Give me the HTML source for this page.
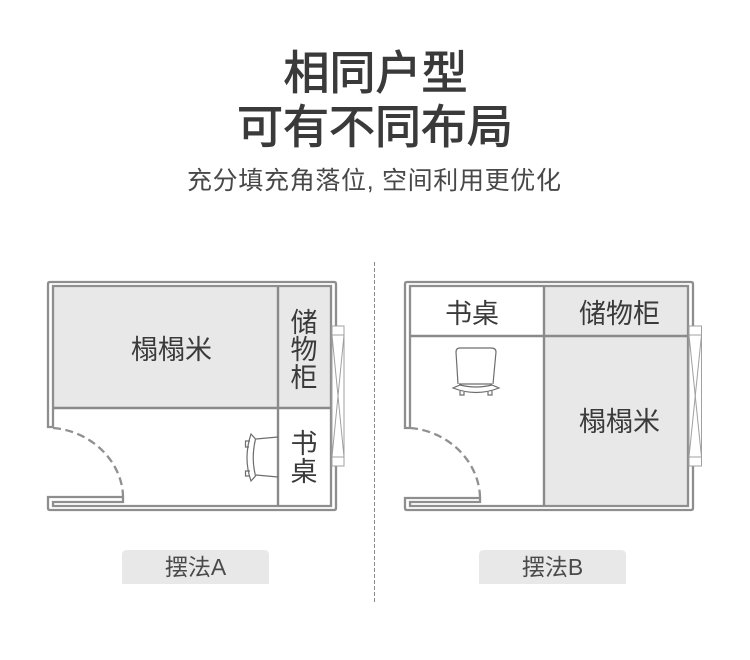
<!DOCTYPE html>
<html lang="zh">
<head>
<meta charset="utf-8">
<style>
html,body{margin:0;padding:0;background:#fff;}
body{width:750px;height:660px;overflow:hidden;}
svg{display:block;}
text{font-family:"Liberation Sans","Noto Sans CJK SC",sans-serif;}
.h{font-size:46px;font-weight:400;fill:#3a3a3a;stroke:#3a3a3a;stroke-width:1;text-anchor:middle;}
.s{font-size:25px;fill:#484848;}
.l{font-size:27px;fill:#3a3a3a;text-anchor:middle;}
.b{font-size:23px;fill:#4a4a4a;text-anchor:middle;}
.w{fill:none;stroke:#8e8e8e;stroke-width:2.3;}
.d{fill:none;stroke:#8a8a8a;stroke-width:2.4;}
.t{fill:none;stroke:#a0a0a0;stroke-width:1;}
.c{fill:none;stroke:#6e6e6e;stroke-width:1.2;}
.a{fill:none;stroke:#909090;stroke-width:2.3;stroke-dasharray:8 4.5;}
</style>
</head>
<body>
<svg width="750" height="660" viewBox="0 0 750 660" xmlns="http://www.w3.org/2000/svg">
<rect width="750" height="660" fill="#fff"/>

<text class="h" x="375.5" y="89">相同户型</text>
<text class="h" x="375" y="143">可有不同布局</text>
<text class="s" x="187" y="189" textLength="374" lengthAdjust="spacing">充分填充角落位, 空间利用更优化</text>

<line x1="374.5" y1="262" x2="374.5" y2="603" stroke="#8c8c8c" stroke-width="1" stroke-dasharray="4 2"/>

<!-- Plan A -->
<rect x="53" y="286" width="225" height="122" fill="#e8e8e8"/>
<rect x="278" y="286" width="53" height="122" fill="#e8e8e8"/>
<path class="w" d="M53 427H48V284Q48 282 50 282H334Q336 282 336 284V508Q336 510 334 510H50Q48 510 48 508V497H123V502H53V506H331V286H53V427"/>
<line class="d" x1="278" y1="286" x2="278" y2="506"/>
<line class="d" x1="53" y1="408" x2="331" y2="408"/>
<path class="a" d="M53 428C92 431 122 462 123 496"/>
<rect x="332" y="326" width="12" height="140" fill="#fff" stroke="#a0a0a0" stroke-width="1"/>
<line class="t" x1="332" y1="335" x2="344" y2="335"/>
<line class="t" x1="332" y1="457" x2="344" y2="457"/>
<line class="t" x1="332" y1="335" x2="344" y2="457"/>
<line class="t" x1="344" y1="335" x2="332" y2="457"/>
<path class="c" d="M278 437L256 439M278 477L256 475M251 434Q243 458 251 481L255.500 476Q251 458 255.500 439ZM250 441H245.500V447H249M250 471H245.500V476H250"/>
<text class="l" x="171.500" y="359">榻榻米</text>
<text class="l" x="304" y="332">储</text>
<text class="l" x="304" y="359">物</text>
<text class="l" x="304" y="387">柜</text>
<text class="l" x="304" y="453">书</text>
<text class="l" x="304" y="481">桌</text>

<!-- Plan B -->
<rect x="544" y="286" width="144" height="220" fill="#e8e8e8"/>
<path class="w" d="M410 428H405V284Q405 282 407 282H691Q693 282 693 284V508Q693 510 691 510H407Q405 510 405 508V498H480V502H410V506H688V286H410V428"/>
<line class="d" x1="544" y1="286" x2="544" y2="506"/>
<line class="d" x1="410" y1="336" x2="688" y2="336"/>
<path class="a" d="M410 428C449 431 479 462 480 497"/>
<rect x="689" y="326" width="12.500" height="140" fill="#fff" stroke="#a0a0a0" stroke-width="1"/>
<line class="t" x1="689" y1="335" x2="701.500" y2="335"/>
<line class="t" x1="689" y1="457" x2="701.500" y2="457"/>
<line class="t" x1="689" y1="335" x2="701.500" y2="457"/>
<line class="t" x1="701.500" y1="335" x2="689" y2="457"/>
<path class="c" d="M458 384L456 352Q456 348 460 348H491Q496 348 496 352L493 384M453 388Q476 397 499 388L492 385Q476 389 460 385ZM459 384H492M460 391V395H464V392M488 392V395H492V391"/>
<text class="l" x="472" y="323">书桌</text>
<text class="l" x="619.500" y="323">储物柜</text>
<text class="l" x="619.500" y="431">榻榻米</text>

<!-- Tags -->
<path d="M122 584V555Q122 550 127 550H264Q269 550 269 555V584Z" fill="#e8e8e8"/>
<path d="M479 584V555Q479 550 484 550H621Q626 550 626 555V584Z" fill="#e8e8e8"/>
<text class="b" x="195.500" y="575">摆法A</text>
<text class="b" x="552.500" y="575">摆法B</text>
</svg>
</body>
</html>
